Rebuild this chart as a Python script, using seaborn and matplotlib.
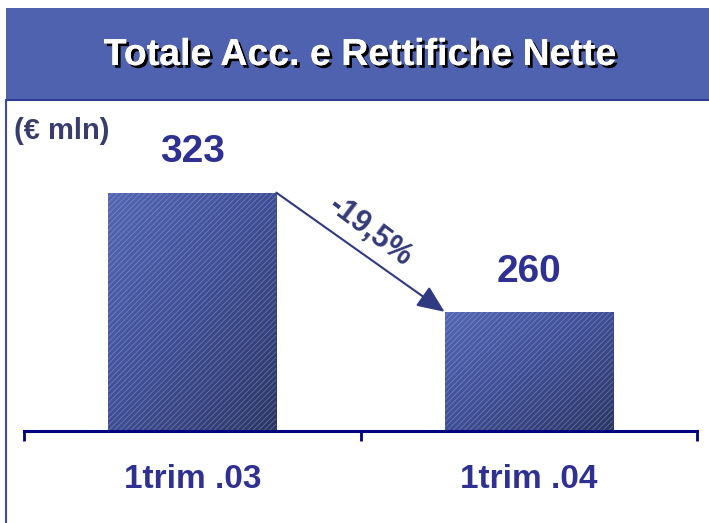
import numpy as np
import pandas as pd
import seaborn as sns
import matplotlib.pyplot as plt
from matplotlib.patches import Rectangle
from matplotlib.lines import Line2D
import matplotlib.patheffects as pe

periods = ["1trim .03", "1trim .04"]
values = [323, 260]
change_label = "-19,5%"
title = "Totale Acc. e Rettifiche Nette"
unit_label = "(€ mln)"

sns.set_theme(style="white")
plt.rcParams['font.family'] = ['Liberation Sans', 'DejaVu Sans']
plt.rcParams['hatch.linewidth'] = 0.6

fig = plt.figure(figsize=(7.09, 5.23), dpi=100)

# header band and left frame line
fig.patches.append(Rectangle((6 / 709, 1 - 100 / 523), 1, 92 / 523, transform=fig.transFigure,
                             facecolor="#4f62b0", edgecolor="none", zorder=0))
fig.lines.append(Line2D([6 / 709, 1], [1 - 100 / 523] * 2, transform=fig.transFigure,
                        color="#2f3a9a", lw=1.5))
fig.lines.append(Line2D([6 / 709, 6 / 709], [0, 1 - 100 / 523], transform=fig.transFigure,
                        color="#3c4aa6", lw=1.5))
fig.text(360 / 709, 1 - 55 / 523, title, ha="center", va="center", color="white",
         fontsize=27, fontweight="bold",
         path_effects=[pe.withSimplePatchShadow(offset=(2, -2), shadow_rgbFace="black", alpha=1),
                       pe.Normal()])
fig.text(14 / 709, 1 - 131 / 523, unit_label, ha="left", va="center", color="#383d6c",
         fontsize=21, fontweight="bold")

ax = fig.add_axes([24 / 709, 92 / 523, 673 / 709, 331 / 523])
df = pd.DataFrame({"period": periods, "value": values})
sns.barplot(data=df, x="period", y="value", width=0.5, color="#4a5aa0", ax=ax,
            saturation=1, zorder=3)

ax.set_ylim(197, 372)
ax.set_xlim(-0.5, 1.5)

# gradient + fine diagonal hatch on bars
grad = np.linspace(0, 1, 256)
gx, gy = np.meshgrid(grad, grad)
g = (gx + (1 - gy)) / 2
cmap = sns.blend_palette(["#5466b4", "#3f4e94", "#2c3664"], as_cmap=True)
for p in ax.patches:
    x0, y0 = p.get_x(), p.get_y()
    w, h = p.get_width(), p.get_height()
    im = ax.imshow(g, extent=[x0, x0 + w, 197, y0 + h], origin="lower", cmap=cmap,
                   aspect="auto", zorder=2)
    im.set_clip_path(p)
    p.set_facecolor("none")
    p.set_hatch("//////")
    p.set_edgecolor((0.75, 0.8, 0.95, 0.35))
    p.set_linewidth(0)
ax.set_aspect("auto")
ax.set_xlim(-0.5, 1.5)
ax.set_ylim(197, 372)

for i, v in enumerate(values):
    ax.annotate(str(v), (i, v), xytext=(0, 29), textcoords="offset points",
                ha="center", va="center", fontsize=28, fontweight="bold", color="#2e3192")

# change arrow between bar tops
x_start = 0 + 0.25
x_end = 1 - 0.25
ax.annotate("", xy=(x_end, values[1]), xytext=(x_start, values[0]),
            arrowprops=dict(arrowstyle="-|>,head_length=1.4,head_width=0.6",
                            color="#2f3a80", lw=1.5, shrinkA=0, shrinkB=0), zorder=5)
ax.text((x_start + x_end) / 2 + 0.03, (values[0] + values[1]) / 2 + 11, change_label,
        rotation=-37, ha="center", va="center", fontsize=22, fontweight="bold",
        color="#333a78", rotation_mode="anchor")

for s in ["top", "right", "left"]:
    ax.spines[s].set_visible(False)
ax.spines["bottom"].set_color("#000080")
ax.spines["bottom"].set_linewidth(2.2)
ax.spines["bottom"].set_zorder(6)
ax.set_yticks([])
ax.set_xticks([-0.5, 0.5, 1.5], minor=False)
ax.set_xticklabels([])
ax.tick_params(axis="x", which="major", bottom=True, length=7, width=2, color="#000080", direction="out")
ax.set_xticks([0, 1], minor=True)
ax.set_xticklabels(periods, minor=True)
ax.tick_params(axis="x", which="minor", bottom=False, length=0, pad=24,
               labelsize=24, labelcolor="#2e3192")
for lab in ax.get_xticklabels(minor=True):
    lab.set_fontweight("bold")
ax.set_xlabel("")
ax.set_ylabel("")
ax.patch.set_alpha(0)

fig.savefig("out.png", dpi=100)
